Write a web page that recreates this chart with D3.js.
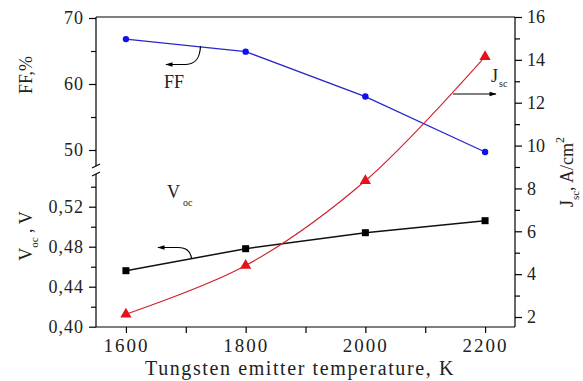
<!DOCTYPE html>
<html>
<head>
<meta charset="utf-8">
<script src="https://cdn.jsdelivr.net/npm/d3@7/dist/d3.min.js"></script>
<style>
  body { margin: 0; background: #fff; }
  svg text { font-family: "Times New Roman", Times, "Liberation Serif", "DejaVu Serif", serif; fill: #222; }
</style>
</head>
<body>
<div id="chart"></div>
<script>
// emitter temperature, K
const temps = [1600, 1800, 2000, 2200];
// fill factor, %
const ffValues = [66.8, 64.9, 58.1, 49.7];
// open circuit voltage, V
const vocValues = [0.456, 0.478, 0.494, 0.506];
// short circuit current density, A/cm2
const jscValues = [2.13, 4.4, 8.36, 14.15];

const xTicks = [1600, 1800, 2000, 2200];
const xMinor = [1700, 1900, 2100];
const ffTicks = [50, 60, 70];
const ffMinor = [55, 65];
const vocTicks = [0.40, 0.44, 0.48, 0.52];
const vocMinor = [0.42, 0.46, 0.50, 0.54];
const jscTicks = [2, 4, 6, 8, 10, 12, 14, 16];
const jscMinor = [3, 5, 7, 9, 11, 13, 15];

const W = 583, H = 381;
const plotLeft = 96, plotRight = 515, plotTop = 17, plotBottom = 327;
const breakTop = 166, breakBottom = 174;
const serif = "'Times New Roman', Times, 'Liberation Serif', 'DejaVu Serif', serif";

const svg = d3.select("#chart").append("svg")
    .attr("width", W)
    .attr("height", H)
    .attr("font-family", serif);

const x = d3.scaleLinear().domain([1550, 2250]).range([plotLeft, plotRight]);
const yFF = d3.scaleLinear().domain([50, 70]).range([150, 18]);
const yVoc = d3.scaleLinear().domain([0.40, 0.52]).range([326.7, 206.7]);
const yJsc = d3.scaleLinear().domain([2, 16]).range([317, 17]);

// frame top line
svg.append("line")
    .attr("x1", plotLeft).attr("x2", plotRight)
    .attr("y1", plotTop).attr("y2", plotTop)
    .attr("stroke", "#000").attr("stroke-width", 1.2);

function styleAxis(g) {
    g.attr("font-family", serif);
    g.selectAll("path.domain").attr("stroke", "#000").attr("stroke-width", 1.2);
    g.selectAll(".tick line").attr("stroke", "#000").attr("stroke-width", 1.2);
    g.selectAll(".tick text")
        .attr("font-size", 18)
        .attr("fill", "#333")
        .style("letter-spacing", "1px");
}

// x axis
const xAxis = svg.append("g")
    .attr("transform", `translate(0,${plotBottom})`)
    .call(d3.axisBottom(x).tickValues(xTicks).tickSize(6).tickSizeOuter(0).tickPadding(6)
        .tickFormat(d3.format("d")));
xAxis.select("path.domain").attr("d", `M${plotLeft},0H${plotRight}`);
styleAxis(xAxis);
xAxis.selectAll(".tick text").attr("font-size", 19).style("letter-spacing", "2px");
svg.append("g")
    .attr("transform", `translate(0,${plotBottom})`)
    .call(d3.axisBottom(x).tickValues(xMinor).tickSize(6).tickSizeOuter(0).tickFormat(""))
    .call(g => g.select("path.domain").remove())
    .call(styleAxis);

// upper left axis (FF)
const ffAxis = svg.append("g")
    .attr("transform", `translate(${plotLeft},0)`)
    .call(d3.axisLeft(yFF).tickValues(ffTicks).tickSize(7).tickSizeOuter(0).tickPadding(5));
ffAxis.select("path.domain").attr("d", `M0,${plotTop}V${breakTop}`);
styleAxis(ffAxis);
svg.append("g")
    .attr("transform", `translate(${plotLeft},0)`)
    .call(d3.axisLeft(yFF).tickValues(ffMinor).tickSize(5).tickFormat(""))
    .call(g => g.select("path.domain").remove())
    .call(styleAxis);

// lower left axis (Voc)
const vocAxis = svg.append("g")
    .attr("transform", `translate(${plotLeft},0)`)
    .call(d3.axisLeft(yVoc).tickValues(vocTicks).tickSize(7).tickSizeOuter(0).tickPadding(5)
        .tickFormat(d => d3.format(".2f")(d).replace(".", ",")));
vocAxis.select("path.domain").attr("d", `M0,${breakBottom}V${plotBottom}`);
styleAxis(vocAxis);
svg.append("g")
    .attr("transform", `translate(${plotLeft},0)`)
    .call(d3.axisLeft(yVoc).tickValues(vocMinor).tickSize(5).tickFormat(""))
    .call(g => g.select("path.domain").remove())
    .call(styleAxis);

// axis break marks
[breakTop, breakBottom].forEach(yb => {
    svg.append("line")
        .attr("x1", plotLeft - 4).attr("x2", plotLeft + 4)
        .attr("y1", yb + 2).attr("y2", yb - 2)
        .attr("stroke", "#000").attr("stroke-width", 1.2);
});

// right axis (Jsc)
const jscAxis = svg.append("g")
    .attr("transform", `translate(${plotRight},0)`)
    .call(d3.axisRight(yJsc).tickValues(jscTicks).tickSize(7).tickSizeOuter(0).tickPadding(5));
jscAxis.select("path.domain").attr("d", `M0,${plotTop}V${plotBottom}`);
styleAxis(jscAxis);
jscAxis.selectAll(".tick text").style("letter-spacing", "0px");
svg.append("g")
    .attr("transform", `translate(${plotRight},0)`)
    .call(d3.axisRight(yJsc).tickValues(jscMinor).tickSize(5).tickFormat(""))
    .call(g => g.select("path.domain").remove())
    .call(styleAxis);

// series lines
const ffLine = d3.line().x((d, i) => x(temps[i])).y(d => yFF(d));
svg.append("path")
    .datum(ffValues)
    .attr("d", ffLine)
    .attr("fill", "none").attr("stroke", "#2828c8").attr("stroke-width", 1.3);

const vocLine = d3.line().x((d, i) => x(temps[i])).y(d => yVoc(d));
svg.append("path")
    .datum(vocValues)
    .attr("d", vocLine)
    .attr("fill", "none").attr("stroke", "#111").attr("stroke-width", 1.5);

const jscLine = d3.line().x((d, i) => x(temps[i])).y(d => yJsc(d)).curve(d3.curveCatmullRom);
svg.append("path")
    .datum(jscValues)
    .attr("d", jscLine)
    .attr("fill", "none").attr("stroke", "#d0202c").attr("stroke-width", 1.1);

// markers
svg.selectAll(".ff-dot")
    .data(ffValues)
    .enter()
    .append("circle")
        .attr("cx", (d, i) => x(temps[i]))
        .attr("cy", d => yFF(d))
        .attr("r", 3.2)
        .attr("fill", "#1010f0");

svg.selectAll(".voc-dot")
    .data(vocValues)
    .enter()
    .append("rect")
        .attr("x", (d, i) => x(temps[i]) - 3.5)
        .attr("y", d => yVoc(d) - 3.5)
        .attr("width", 7).attr("height", 7)
        .attr("fill", "#000");

svg.selectAll(".jsc-dot")
    .data(jscValues)
    .enter()
    .append("path")
        .attr("transform", (d, i) => `translate(${x(temps[i])},${yJsc(d)})`)
        .attr("d", d3.symbol().type(d3.symbolTriangle).size(55))
        .attr("fill", "#e8101c");

// annotation arrows
const defs = svg.append("defs");
defs.append("marker")
    .attr("id", "arr")
    .attr("viewBox", "0 0 10 10")
    .attr("refX", 9).attr("refY", 5)
    .attr("markerWidth", 8).attr("markerHeight", 6)
    .attr("orient", "auto")
    .append("path")
        .attr("d", "M0,2L10,5L0,8Z")
        .attr("fill", "#000");

svg.append("path")
    .attr("d", "M200.5,46 C200,58 196,64 186,64.5 L166,64.5")
    .attr("fill", "none").attr("stroke", "#000").attr("stroke-width", 1.2)
    .attr("marker-end", "url(#arr)");

svg.append("path")
    .attr("d", "M191.5,258 C190,250 186,248 178,247.5 L158,247.5")
    .attr("fill", "none").attr("stroke", "#000").attr("stroke-width", 1.2)
    .attr("marker-end", "url(#arr)");

svg.append("path")
    .attr("d", "M453,94 L496,94")
    .attr("fill", "none").attr("stroke", "#000").attr("stroke-width", 1.2)
    .attr("marker-end", "url(#arr)");

// series labels
svg.append("text")
    .attr("x", 164).attr("y", 88)
    .attr("font-size", 18)
    .text("FF");

const vocLabel = svg.append("text")
    .attr("x", 167).attr("y", 198)
    .attr("font-size", 18);
vocLabel.append("tspan").text("V");
vocLabel.append("tspan").attr("dx", 3).attr("dy", 8).attr("font-size", 10).text("oc");

const jscLabel = svg.append("text")
    .attr("x", 491).attr("y", 82)
    .attr("font-size", 18);
jscLabel.append("tspan").text("J");
jscLabel.append("tspan").attr("dx", 1).attr("dy", 5).attr("font-size", 10).text("sc");

// axis titles
svg.append("text")
    .attr("transform", "translate(32,75) rotate(-90)")
    .attr("text-anchor", "middle")
    .attr("font-size", 18)
    .text("FF,%");

const vocTitle = svg.append("text")
    .attr("transform", "translate(32,236) rotate(-90)")
    .attr("text-anchor", "middle")
    .attr("font-size", 18);
vocTitle.append("tspan").text("V");
vocTitle.append("tspan").attr("dy", 6).attr("font-size", 11).text("oc");
vocTitle.append("tspan").attr("dy", -6).text(" , V");

const jscTitle = svg.append("text")
    .attr("transform", "translate(573,172) rotate(-90)")
    .attr("text-anchor", "middle")
    .attr("font-size", 18);
jscTitle.append("tspan").text("J");
jscTitle.append("tspan").attr("dy", 6).attr("font-size", 11).text("sc");
jscTitle.append("tspan").attr("dy", -6).text(", A/cm");
jscTitle.append("tspan").attr("dy", -9).attr("font-size", 12).text("2");

svg.append("text")
    .attr("x", 300).attr("y", 375)
    .attr("text-anchor", "middle")
    .attr("font-size", 20)
    .style("letter-spacing", "1.6px")
    .text("Tungsten emitter temperature, K");
</script>
</body>
</html>
